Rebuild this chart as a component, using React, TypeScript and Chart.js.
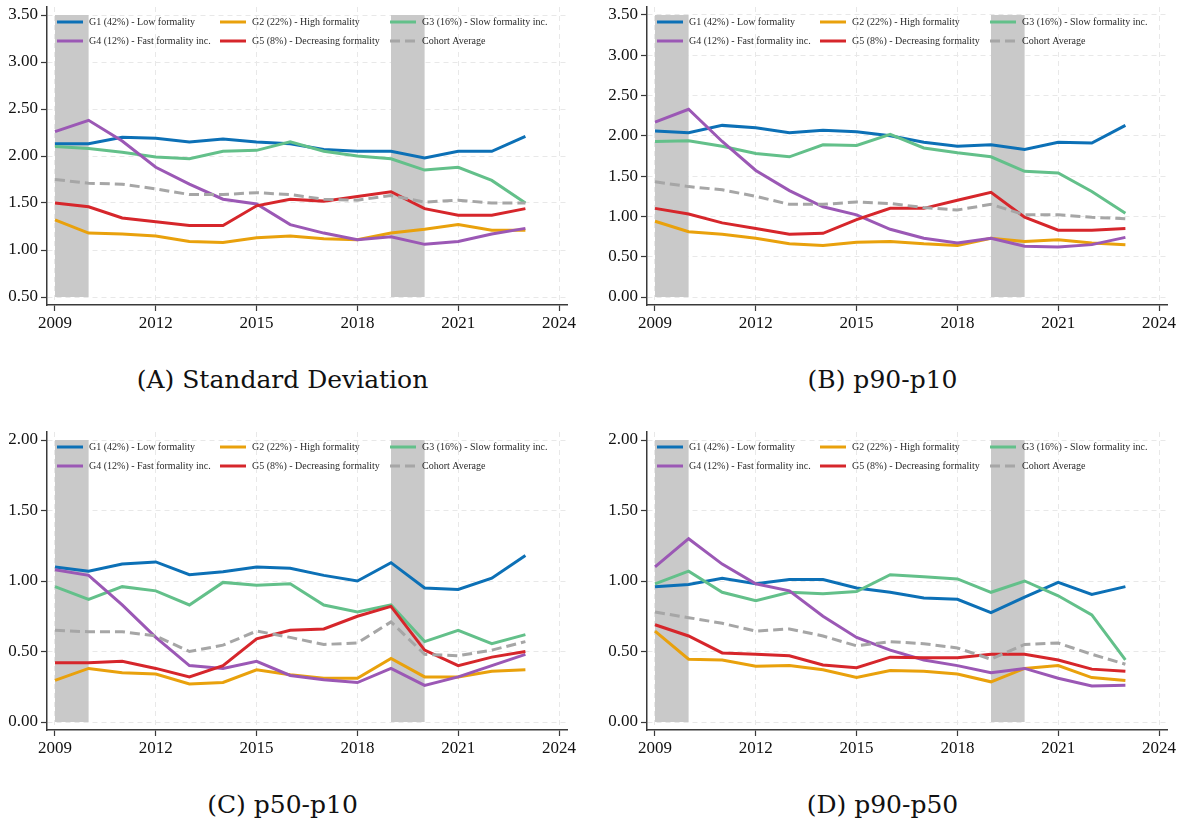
import React, { useEffect, useRef } from "react";
import { Chart, registerables } from "chart.js";

Chart.register(...registerables);

// ---- shared axis data ----
const years = [2009, 2010, 2011, 2012, 2013, 2014, 2015, 2016, 2017, 2018, 2019, 2020, 2021, 2022, 2023];
const xTicks = [2009, 2012, 2015, 2018, 2021, 2024];
const shadedSpans: [number, number][] = [
  [2009, 2010],
  [2019, 2020],
];

const seriesLabels = [
  "G1 (42%) - Low formality",
  "G2 (22%) - High formality",
  "G3 (16%) - Slow formality inc.",
  "G4 (12%) - Fast formality inc.",
  "G5 (8%) - Decreasing formality",
  "Cohort Average",
];
const seriesColors = ["#0c70b6", "#e9a10c", "#63c08a", "#9b58b5", "#d6262b", "#a6a6a6"];
const dashedSeries = [false, false, false, false, false, true];

// ---- (A) Standard Deviation ----
const sdTicks = [0.5, 1.0, 1.5, 2.0, 2.5, 3.0, 3.5];
const sdG1 = [2.13, 2.13, 2.2, 2.19, 2.15, 2.18, 2.15, 2.13, 2.07, 2.05, 2.05, 1.98, 2.05, 2.05, 2.21];
const sdG2 = [1.32, 1.18, 1.17, 1.15, 1.09, 1.08, 1.13, 1.15, 1.12, 1.11, 1.18, 1.22, 1.27, 1.21, 1.21];
const sdG3 = [2.1, 2.08, 2.04, 1.99, 1.97, 2.05, 2.06, 2.15, 2.05, 2.0, 1.97, 1.85, 1.88, 1.74, 1.5];
const sdG4 = [2.26, 2.38, 2.16, 1.88, 1.7, 1.54, 1.49, 1.27, 1.18, 1.11, 1.14, 1.06, 1.09, 1.17, 1.23];
const sdG5 = [1.5, 1.46, 1.34, 1.3, 1.26, 1.26, 1.47, 1.54, 1.52, 1.57, 1.62, 1.44, 1.37, 1.37, 1.44];
const sdAvg = [1.75, 1.71, 1.7, 1.65, 1.59, 1.59, 1.61, 1.59, 1.54, 1.53, 1.58, 1.51, 1.53, 1.5, 1.5];

// ---- (B) p90-p10 ----
const p9010Ticks = [0.0, 0.5, 1.0, 1.5, 2.0, 2.5, 3.0, 3.5];
const p9010G1 = [2.06, 2.04, 2.13, 2.1, 2.04, 2.07, 2.05, 2.0, 1.92, 1.87, 1.89, 1.83, 1.92, 1.91, 2.13];
const p9010G2 = [0.94, 0.81, 0.78, 0.73, 0.66, 0.64, 0.68, 0.69, 0.66, 0.64, 0.73, 0.69, 0.71, 0.67, 0.65];
const p9010G3 = [1.93, 1.94, 1.87, 1.78, 1.74, 1.89, 1.88, 2.02, 1.85, 1.79, 1.74, 1.56, 1.54, 1.31, 1.04];
const p9010G4 = [2.17, 2.33, 1.93, 1.57, 1.32, 1.12, 1.02, 0.84, 0.73, 0.67, 0.73, 0.63, 0.62, 0.65, 0.74];
const p9010G5 = [1.1, 1.03, 0.92, 0.85, 0.78, 0.79, 0.96, 1.1, 1.1, 1.2, 1.3, 0.99, 0.83, 0.83, 0.85];
const p9010Avg = [1.43, 1.37, 1.33, 1.25, 1.15, 1.15, 1.18, 1.16, 1.11, 1.08, 1.15, 1.02, 1.02, 0.99, 0.97];

// ---- (C) p50-p10 ----
const p5010Ticks = [0.0, 0.5, 1.0, 1.5, 2.0];
const p5010G1 = [1.1, 1.07, 1.12, 1.135, 1.045, 1.065, 1.1, 1.09, 1.04, 1.0, 1.13, 0.95, 0.94, 1.02, 1.18];
const p5010G2 = [0.295, 0.38, 0.35, 0.34, 0.27, 0.28, 0.37, 0.335, 0.31, 0.31, 0.45, 0.32, 0.32, 0.36, 0.37];
const p5010G3 = [0.96, 0.87, 0.96, 0.93, 0.83, 0.99, 0.97, 0.98, 0.83, 0.78, 0.83, 0.57, 0.65, 0.555, 0.62];
const p5010G4 = [1.08, 1.04, 0.83, 0.6, 0.4, 0.38, 0.43, 0.33, 0.3, 0.28, 0.38, 0.26, 0.32, 0.4, 0.48];
const p5010G5 = [0.42, 0.42, 0.43, 0.38, 0.32, 0.4, 0.59, 0.65, 0.66, 0.75, 0.82, 0.51, 0.4, 0.46, 0.5];
const p5010Avg = [0.65, 0.64, 0.64, 0.61, 0.5, 0.545, 0.645, 0.6, 0.55, 0.56, 0.71, 0.48, 0.47, 0.51, 0.57];

// ---- (D) p90-p50 ----
const p9050Ticks = [0.0, 0.5, 1.0, 1.5, 2.0];
const p9050G1 = [0.96, 0.975, 1.02, 0.98, 1.01, 1.01, 0.95, 0.92, 0.88, 0.87, 0.775, 0.885, 0.99, 0.905, 0.96];
const p9050G2 = [0.645, 0.445, 0.44, 0.395, 0.4, 0.37, 0.315, 0.365, 0.36, 0.34, 0.285, 0.38, 0.4, 0.315, 0.295];
const p9050G3 = [0.98, 1.07, 0.92, 0.86, 0.92, 0.91, 0.925, 1.045, 1.03, 1.015, 0.92, 1.0, 0.895, 0.76, 0.44];
const p9050G4 = [1.1, 1.3, 1.12, 0.98, 0.93, 0.75, 0.6, 0.51, 0.44, 0.4, 0.35, 0.38, 0.31, 0.255, 0.26];
const p9050G5 = [0.69, 0.61, 0.49, 0.48, 0.47, 0.405, 0.385, 0.46, 0.455, 0.455, 0.48, 0.48, 0.44, 0.375, 0.36];
const p9050Avg = [0.78, 0.74, 0.7, 0.645, 0.66, 0.61, 0.54, 0.57, 0.555, 0.525, 0.445, 0.55, 0.56, 0.48, 0.41];

// ---- layout constants ----
const CANVAS_W = 590;
const CANVAS_H = 340;
const Y_AXIS_W = 47;
const X_AXIS_H = 35;
const PAD_TOP = 7;
const PAD_RIGHT = 23;
const AXIS_INSET = 8; // gap between the axis ends and the outer ticks
const AREA_W = CANVAS_W - Y_AXIS_W - PAD_RIGHT;
const AREA_H = CANVAS_H - X_AXIS_H - PAD_TOP;

const AXIS_COLOR = "#3a3a3a";
const GRID_COLOR = "#e8e8e8";
const SHADE_COLOR = "#c9c9c9";
const TICK_FONT = { family: "'Liberation Serif', 'Times New Roman', serif", size: 17 };
const LEGEND_FONT = "10px 'Liberation Serif', 'Times New Roman', serif";
const LEGEND_COLS = [10, 173, 343];
const LEGEND_ROWS = [15, 34];
const LEGEND_LINE = 26;

type PanelProps = {
  title: string;
  series: number[][];
  yTicks: number[];
  left: number;
  top: number;
};

function shadePlugin(yMin: number, yMax: number) {
  return {
    id: "recessionShade",
    beforeDatasetsDraw(chart: any) {
      const { ctx, scales } = chart;
      const x = scales.x;
      const y = scales.y;
      const yTop = y.getPixelForValue(yMax);
      const yBot = y.getPixelForValue(yMin);
      ctx.save();
      ctx.fillStyle = SHADE_COLOR;
      for (const [a, b] of shadedSpans) {
        const x0 = x.getPixelForValue(a);
        const x1 = x.getPixelForValue(b);
        ctx.fillRect(x0, yTop, x1 - x0, yBot - yTop);
      }
      ctx.restore();
    },
  };
}

const gridLegendPlugin = {
  id: "gridLegend",
  afterDraw(chart: any) {
    const { ctx, chartArea } = chart;
    ctx.save();
    ctx.font = LEGEND_FONT;
    ctx.textBaseline = "middle";
    ctx.textAlign = "left";
    chart.data.datasets.forEach((ds: any, i: number) => {
      const col = i % 3;
      const row = Math.floor(i / 3);
      const x0 = chartArea.left + LEGEND_COLS[col];
      const y0 = chartArea.top + LEGEND_ROWS[row];
      ctx.beginPath();
      ctx.strokeStyle = ds.borderColor;
      ctx.lineWidth = 3;
      ctx.setLineDash(ds.borderDash || []);
      ctx.moveTo(x0, y0);
      ctx.lineTo(x0 + LEGEND_LINE, y0);
      ctx.stroke();
      ctx.setLineDash([]);
      ctx.fillStyle = "#2a2a2a";
      ctx.fillText(ds.label, x0 + LEGEND_LINE + 6, y0 + 0.5);
    });
    ctx.restore();
  },
};

function Panel({ title, series, yTicks, left, top }: PanelProps) {
  const ref = useRef<HTMLCanvasElement | null>(null);

  useEffect(() => {
    if (!ref.current) return;
    const innerW = AREA_W - 2 * AXIS_INSET;
    const innerH = AREA_H - 2 * AXIS_INSET;
    const xSpan = xTicks[xTicks.length - 1] - xTicks[0];
    const ySpan = yTicks[yTicks.length - 1] - yTicks[0];
    const xPad = (xSpan * AXIS_INSET) / innerW;
    const yPad = (ySpan * AXIS_INSET) / innerH;

    const datasets = series.map((vals, i) => ({
      label: seriesLabels[i],
      data: years.map((yr, j) => ({ x: yr, y: vals[j] })),
      borderColor: seriesColors[i],
      backgroundColor: seriesColors[i],
      borderWidth: 3,
      borderDash: dashedSeries[i] ? [10, 5] : [],
      pointRadius: 0,
      tension: 0,
      fill: false,
      order: series.length - i,
    }));

    const chart = new Chart(ref.current, {
      type: "line",
      data: { datasets },
      options: {
        responsive: false,
        animation: false,
        layout: { padding: { left: 0, right: PAD_RIGHT, top: PAD_TOP, bottom: 0 } },
        plugins: { legend: { display: false }, tooltip: { enabled: false } },
        scales: {
          x: {
            type: "linear",
            min: xTicks[0] - xPad,
            max: xTicks[xTicks.length - 1] + xPad,
            afterBuildTicks: (s: any) => {
              s.ticks = xTicks.map((v) => ({ value: v }));
            },
            afterFit: (s: any) => {
              s.height = X_AXIS_H;
              s.paddingLeft = 0;
              s.paddingRight = 0;
            },
            grid: {
              color: GRID_COLOR,
              lineWidth: 1,
              tickLength: 6,
              tickColor: AXIS_COLOR,
              tickWidth: 1.2,
              tickBorderDash: [],
            },
            border: { color: AXIS_COLOR, width: 1.5, dash: [5, 4] },
            ticks: {
              font: TICK_FONT,
              color: "#111",
              padding: 2,
              maxRotation: 0,
              autoSkip: false,
              callback: (v: any) => String(v),
            },
          },
          y: {
            type: "linear",
            min: yTicks[0] - yPad,
            max: yTicks[yTicks.length - 1] + yPad,
            afterBuildTicks: (s: any) => {
              s.ticks = yTicks.map((v) => ({ value: v }));
            },
            afterFit: (s: any) => {
              s.width = Y_AXIS_W;
              s.paddingTop = 0;
              s.paddingBottom = 0;
            },
            grid: {
              color: GRID_COLOR,
              lineWidth: 1,
              tickLength: 6,
              tickColor: AXIS_COLOR,
              tickWidth: 1.2,
              tickBorderDash: [],
            },
            border: { color: AXIS_COLOR, width: 1.5, dash: [5, 4] },
            ticks: {
              font: TICK_FONT,
              color: "#111",
              padding: 3,
              autoSkip: false,
              callback: (v: any) => Number(v).toFixed(2),
            },
          },
        },
      },
      plugins: [shadePlugin(yTicks[0], yTicks[yTicks.length - 1]), gridLegendPlugin],
    } as any);

    return () => chart.destroy();
  }, [series, yTicks]);

  return (
    <>
      <canvas
        ref={ref}
        width={CANVAS_W}
        height={CANVAS_H}
        style={{ position: "absolute", left, top, width: CANVAS_W, height: CANVAS_H }}
      />
      <div
        style={{
          position: "absolute",
          left,
          top: top + 363,
          width: 565,
          textAlign: "center",
          fontFamily: "'DejaVu Serif', serif",
          fontSize: 25,
          lineHeight: "34px",
          color: "#111",
          whiteSpace: "nowrap",
        }}
      >
        {title}
      </div>
    </>
  );
}

const sdSeries = [sdG1, sdG2, sdG3, sdG4, sdG5, sdAvg];
const p9010Series = [p9010G1, p9010G2, p9010G3, p9010G4, p9010G5, p9010Avg];
const p5010Series = [p5010G1, p5010G2, p5010G3, p5010G4, p5010G5, p5010Avg];
const p9050Series = [p9050G1, p9050G2, p9050G3, p9050G4, p9050G5, p9050Avg];

export default function App() {
  return (
    <div
      style={{
        position: "absolute",
        left: 0,
        top: 0,
        width: 1182,
        height: 823,
        background: "#ffffff",
        overflow: "hidden",
      }}
    >
      <Panel title="(A) Standard Deviation" series={sdSeries} yTicks={sdTicks} left={0} top={0} />
      <Panel title="(B) p90-p10" series={p9010Series} yTicks={p9010Ticks} left={600} top={0} />
      <Panel title="(C) p50-p10" series={p5010Series} yTicks={p5010Ticks} left={0} top={425} />
      <Panel title="(D) p90-p50" series={p9050Series} yTicks={p9050Ticks} left={600} top={425} />
    </div>
  );
}
